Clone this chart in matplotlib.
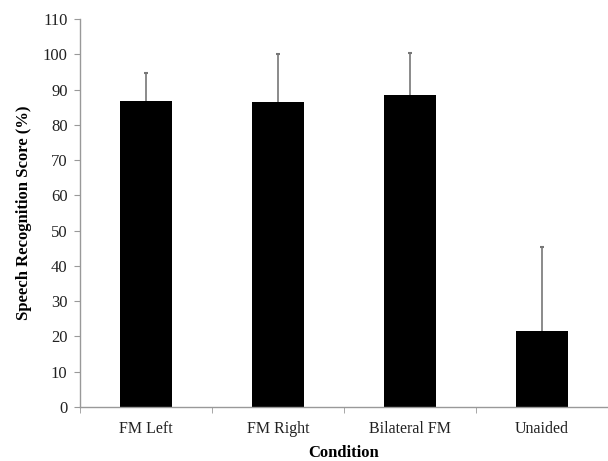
import numpy as np
import matplotlib.pyplot as plt

# Data
conditions = ['FM Left', 'FM Right', 'Bilateral FM', 'Unaided']
scores = [86.7, 86.6, 88.4, 21.6]
sd_upper = [8.1, 13.6, 12.1, 23.8]

plt.rcParams['font.family'] = ['Liberation Serif', 'DejaVu Serif']

fig = plt.figure(figsize=(6.08, 4.61), dpi=100)
ax = fig.add_axes([80 / 608, 1 - 407 / 461, 528 / 608, 388 / 461])

x = np.arange(len(conditions))
ax.bar(x, scores, width=0.4, color='black', zorder=2)
# upper error only
eb = ax.errorbar(x, scores, yerr=[np.zeros(len(scores)), sd_upper], fmt='none',
                 ecolor='#777777', elinewidth=1.2, capsize=1.5, capthick=1.5, zorder=1)
eb[1][0].remove()

ax.set_xlim(-0.5, 528 / 133.5 - 0.5)
ax.set_ylim(0, 110)
ax.set_yticks(np.arange(0, 111, 10))
ax.set_xticks(x)
ax.set_xticklabels(conditions, fontsize=11.5, color='#222222')
ax.set_xticks(np.arange(-0.5, 4, 1), minor=True)
ax.tick_params(axis='x', which='major', length=0, pad=10)
ax.tick_params(axis='x', which='minor', length=4, direction='out', color='#999999')
ax.tick_params(axis='y', length=4, color='#999999', labelsize=12, labelcolor='#222222', pad=5)

for s in ['top', 'right']:
    ax.spines[s].set_visible(False)
for s in ['left', 'bottom']:
    ax.spines[s].set_color('#999999')
    ax.spines[s].set_linewidth(1)

ax.set_xlabel('Condition', fontsize=12, fontweight='bold', labelpad=6)
ax.set_ylabel('Speech Recognition Score (%)', fontsize=12, fontweight='bold', labelpad=8)

fig.savefig('out.png', dpi=100)
